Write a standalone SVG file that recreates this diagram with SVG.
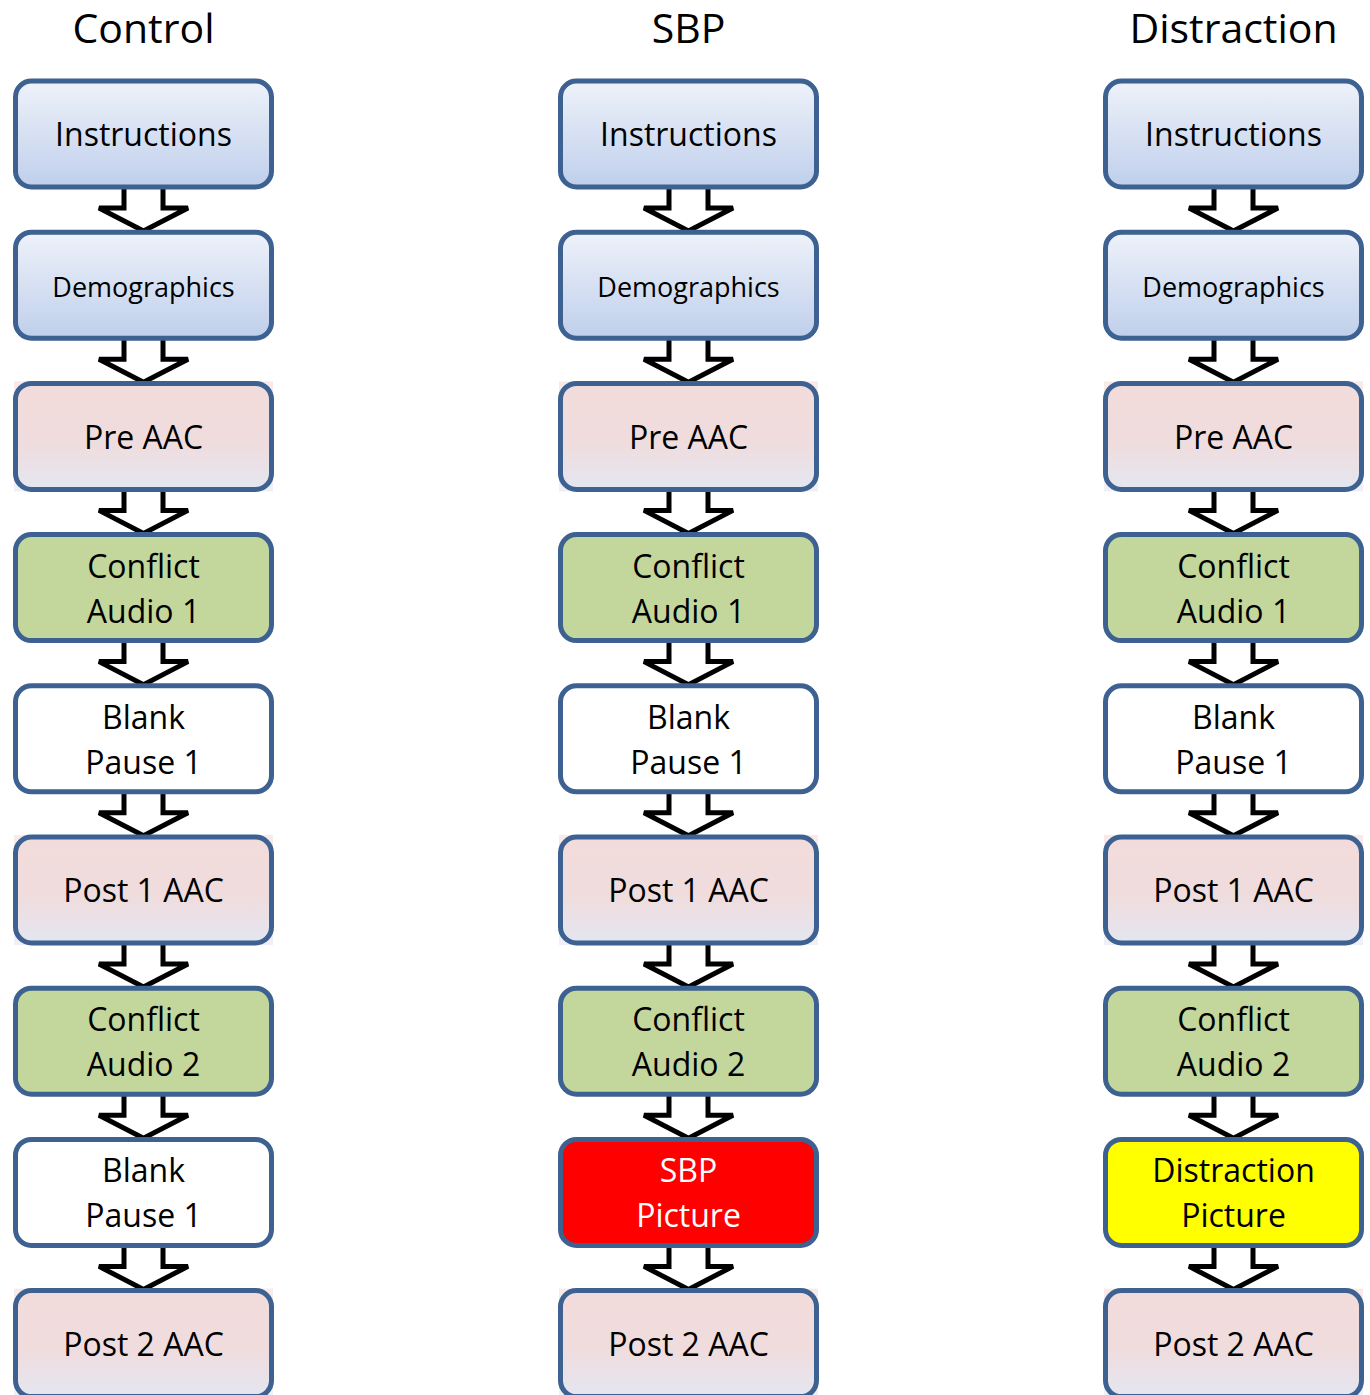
<svg xmlns="http://www.w3.org/2000/svg" width="1370" height="1395" viewBox="0 0 1370 1395">
<defs>
<linearGradient id="gBlue" x1="0" y1="0" x2="0" y2="1"><stop offset="0" stop-color="#eef2fa"/><stop offset="1" stop-color="#bfcfeb"/></linearGradient>
<linearGradient id="gPink" x1="0" y1="0" x2="0" y2="1"><stop offset="0" stop-color="#f2dcdb"/><stop offset="0.55" stop-color="#f0dcdd"/><stop offset="1" stop-color="#e4e6f1"/></linearGradient>
<style>
.box{stroke:#3d6191;stroke-width:5}
.blue{fill:url(#gBlue)}
.pink{fill:url(#gPink)}
.green{fill:#c3d69b}
.white{fill:#ffffff}
.red{fill:#ff0000}
.yellow{fill:#ffff00}
.bg{fill:url(#gPink);opacity:0.6}
text{font-family:"Open Sans","Liberation Sans",sans-serif;text-anchor:middle;fill:#000}
.t{font-size:32px}
.d{font-size:27px}
.h{font-size:41px}
.w{fill:#fff}
.arr{fill:#fff;stroke:#000;stroke-width:5;stroke-linejoin:miter}
</style>
</defs>
<rect width="1370" height="1395" fill="#fff"/>
<g id="titles">
<text class="h" x="143.5" y="43">Control</text>
<text class="h" x="688.5" y="43">SBP</text>
<text class="h" x="1233.5" y="43">Distraction</text>
</g>
<g id="connectors">
<path class="arr" d="M124 185 H163 V208 H188 L143.5 231 L99 208 H124 Z"/>
<path class="arr" d="M124 336.2 H163 V359.2 H188 L143.5 382.2 L99 359.2 H124 Z"/>
<path class="arr" d="M124 487.4 H163 V510.4 H188 L143.5 533.4 L99 510.4 H124 Z"/>
<path class="arr" d="M124 638.6 H163 V661.6 H188 L143.5 684.6 L99 661.6 H124 Z"/>
<path class="arr" d="M124 789.8 H163 V812.8 H188 L143.5 835.8 L99 812.8 H124 Z"/>
<path class="arr" d="M124 941 H163 V964 H188 L143.5 987 L99 964 H124 Z"/>
<path class="arr" d="M124 1092.2 H163 V1115.2 H188 L143.5 1138.2 L99 1115.2 H124 Z"/>
<path class="arr" d="M124 1243.4 H163 V1266.4 H188 L143.5 1289.4 L99 1266.4 H124 Z"/>
<path class="arr" d="M669 185 H708 V208 H733 L688.5 231 L644 208 H669 Z"/>
<path class="arr" d="M669 336.2 H708 V359.2 H733 L688.5 382.2 L644 359.2 H669 Z"/>
<path class="arr" d="M669 487.4 H708 V510.4 H733 L688.5 533.4 L644 510.4 H669 Z"/>
<path class="arr" d="M669 638.6 H708 V661.6 H733 L688.5 684.6 L644 661.6 H669 Z"/>
<path class="arr" d="M669 789.8 H708 V812.8 H733 L688.5 835.8 L644 812.8 H669 Z"/>
<path class="arr" d="M669 941 H708 V964 H733 L688.5 987 L644 964 H669 Z"/>
<path class="arr" d="M669 1092.2 H708 V1115.2 H733 L688.5 1138.2 L644 1115.2 H669 Z"/>
<path class="arr" d="M669 1243.4 H708 V1266.4 H733 L688.5 1289.4 L644 1266.4 H669 Z"/>
<path class="arr" d="M1214 185 H1253 V208 H1278 L1233.5 231 L1189 208 H1214 Z"/>
<path class="arr" d="M1214 336.2 H1253 V359.2 H1278 L1233.5 382.2 L1189 359.2 H1214 Z"/>
<path class="arr" d="M1214 487.4 H1253 V510.4 H1278 L1233.5 533.4 L1189 510.4 H1214 Z"/>
<path class="arr" d="M1214 638.6 H1253 V661.6 H1278 L1233.5 684.6 L1189 661.6 H1214 Z"/>
<path class="arr" d="M1214 789.8 H1253 V812.8 H1278 L1233.5 835.8 L1189 812.8 H1214 Z"/>
<path class="arr" d="M1214 941 H1253 V964 H1278 L1233.5 987 L1189 964 H1214 Z"/>
<path class="arr" d="M1214 1092.2 H1253 V1115.2 H1278 L1233.5 1138.2 L1189 1115.2 H1214 Z"/>
<path class="arr" d="M1214 1243.4 H1253 V1266.4 H1278 L1233.5 1289.4 L1189 1266.4 H1214 Z"/>
</g>
<g id="c1-instructions"><rect class="box blue" x="15.5" y="81" width="256" height="106" rx="16"/><text class="t" x="143.5" y="146">Instructions</text></g>
<g id="c1-demographics"><rect class="box blue" x="15.5" y="232.2" width="256" height="106" rx="16"/><text class="d" x="143.5" y="297">Demographics</text></g>
<g id="c1-preaac"><rect class="bg" x="14" y="381.4" width="259" height="110"/><rect class="box pink" x="15.5" y="383.4" width="256" height="106" rx="16"/><text class="t" x="143.5" y="448.5">Pre AAC</text></g>
<g id="c1-conflict1"><rect class="box green" x="15.5" y="534.6" width="256" height="106" rx="16"/><text class="t" x="143.5" y="577.6">Conflict</text><text class="t" x="143.5" y="622.6">Audio 1</text></g>
<g id="c1-blank1"><rect class="box white" x="15.5" y="685.8" width="256" height="106" rx="16"/><text class="t" x="143.5" y="728.8">Blank</text><text class="t" x="143.5" y="773.8">Pause 1</text></g>
<g id="c1-post1"><rect class="bg" x="14" y="835" width="259" height="110"/><rect class="box pink" x="15.5" y="837" width="256" height="106" rx="16"/><text class="t" x="143.5" y="902">Post 1 AAC</text></g>
<g id="c1-conflict2"><rect class="box green" x="15.5" y="988.2" width="256" height="106" rx="16"/><text class="t" x="143.5" y="1031.2">Conflict</text><text class="t" x="143.5" y="1076.2">Audio 2</text></g>
<g id="c1-blank2"><rect class="box white" x="15.5" y="1139.4" width="256" height="106" rx="16"/><text class="t" x="143.5" y="1182.4">Blank</text><text class="t" x="143.5" y="1227.4">Pause 1</text></g>
<g id="c1-post2"><rect class="bg" x="14" y="1288.6" width="259" height="110"/><rect class="box pink" x="15.5" y="1290.6" width="256" height="106" rx="16"/><text class="t" x="143.5" y="1355.6">Post 2 AAC</text></g>
<g id="c2-instructions"><rect class="box blue" x="560.5" y="81" width="256" height="106" rx="16"/><text class="t" x="688.5" y="146">Instructions</text></g>
<g id="c2-demographics"><rect class="box blue" x="560.5" y="232.2" width="256" height="106" rx="16"/><text class="d" x="688.5" y="297">Demographics</text></g>
<g id="c2-preaac"><rect class="bg" x="559" y="381.4" width="259" height="110"/><rect class="box pink" x="560.5" y="383.4" width="256" height="106" rx="16"/><text class="t" x="688.5" y="448.5">Pre AAC</text></g>
<g id="c2-conflict1"><rect class="box green" x="560.5" y="534.6" width="256" height="106" rx="16"/><text class="t" x="688.5" y="577.6">Conflict</text><text class="t" x="688.5" y="622.6">Audio 1</text></g>
<g id="c2-blank1"><rect class="box white" x="560.5" y="685.8" width="256" height="106" rx="16"/><text class="t" x="688.5" y="728.8">Blank</text><text class="t" x="688.5" y="773.8">Pause 1</text></g>
<g id="c2-post1"><rect class="bg" x="559" y="835" width="259" height="110"/><rect class="box pink" x="560.5" y="837" width="256" height="106" rx="16"/><text class="t" x="688.5" y="902">Post 1 AAC</text></g>
<g id="c2-conflict2"><rect class="box green" x="560.5" y="988.2" width="256" height="106" rx="16"/><text class="t" x="688.5" y="1031.2">Conflict</text><text class="t" x="688.5" y="1076.2">Audio 2</text></g>
<g id="c2-sbp"><rect class="box red" x="560.5" y="1139.4" width="256" height="106" rx="16"/><text class="t w" x="688.5" y="1182.4">SBP</text><text class="t w" x="688.5" y="1227.4">Picture</text></g>
<g id="c2-post2"><rect class="bg" x="559" y="1288.6" width="259" height="110"/><rect class="box pink" x="560.5" y="1290.6" width="256" height="106" rx="16"/><text class="t" x="688.5" y="1355.6">Post 2 AAC</text></g>
<g id="c3-instructions"><rect class="box blue" x="1105.5" y="81" width="256" height="106" rx="16"/><text class="t" x="1233.5" y="146">Instructions</text></g>
<g id="c3-demographics"><rect class="box blue" x="1105.5" y="232.2" width="256" height="106" rx="16"/><text class="d" x="1233.5" y="297">Demographics</text></g>
<g id="c3-preaac"><rect class="bg" x="1104" y="381.4" width="259" height="110"/><rect class="box pink" x="1105.5" y="383.4" width="256" height="106" rx="16"/><text class="t" x="1233.5" y="448.5">Pre AAC</text></g>
<g id="c3-conflict1"><rect class="box green" x="1105.5" y="534.6" width="256" height="106" rx="16"/><text class="t" x="1233.5" y="577.6">Conflict</text><text class="t" x="1233.5" y="622.6">Audio 1</text></g>
<g id="c3-blank1"><rect class="box white" x="1105.5" y="685.8" width="256" height="106" rx="16"/><text class="t" x="1233.5" y="728.8">Blank</text><text class="t" x="1233.5" y="773.8">Pause 1</text></g>
<g id="c3-post1"><rect class="bg" x="1104" y="835" width="259" height="110"/><rect class="box pink" x="1105.5" y="837" width="256" height="106" rx="16"/><text class="t" x="1233.5" y="902">Post 1 AAC</text></g>
<g id="c3-conflict2"><rect class="box green" x="1105.5" y="988.2" width="256" height="106" rx="16"/><text class="t" x="1233.5" y="1031.2">Conflict</text><text class="t" x="1233.5" y="1076.2">Audio 2</text></g>
<g id="c3-distraction"><rect class="box yellow" x="1105.5" y="1139.4" width="256" height="106" rx="16"/><text class="t" x="1233.5" y="1182.4">Distraction</text><text class="t" x="1233.5" y="1227.4">Picture</text></g>
<g id="c3-post2"><rect class="bg" x="1104" y="1288.6" width="259" height="110"/><rect class="box pink" x="1105.5" y="1290.6" width="256" height="106" rx="16"/><text class="t" x="1233.5" y="1355.6">Post 2 AAC</text></g>
</svg>
